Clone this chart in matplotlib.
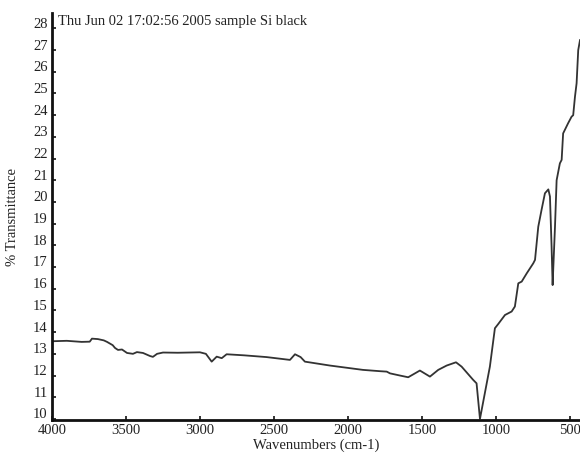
import matplotlib
matplotlib.use('Agg')
import matplotlib.pyplot as plt
import matplotlib.transforms as mtransforms
import numpy as np

# IR spectrum, wavenumber (cm-1) vs % transmittance
wavenumbers = [4000, 3900, 3800, 3745, 3730, 3690, 3650, 3628, 3590, 3574, 3554,
               3527, 3493, 3453, 3426, 3385, 3338, 3318, 3290, 3250, 3150,
               3000, 2960, 2921, 2887, 2853, 2820, 2700, 2550, 2392, 2358,
               2320, 2291, 2122, 1899, 1784, 1738, 1716, 1696, 1649, 1593,
               1514, 1446, 1390, 1333, 1270, 1232, 1154, 1131, 1108, 1041,
               1007, 984, 939, 894, 872, 849, 826, 792, 748, 736, 714, 692,
               669, 646, 635, 624, 617, 613, 601, 590, 568, 556, 546, 513,
               489, 478, 466, 455, 444, 432]
transmittance = [13.58, 13.6, 13.55, 13.56, 13.7, 13.68, 13.62, 13.55, 13.4, 13.27, 13.18,
                 13.2, 13.04, 13.0, 13.08, 13.04, 12.9, 12.86, 13.0, 13.06, 13.05,
                 13.07, 13.0, 12.64, 12.87, 12.8, 12.98, 12.93, 12.85, 12.72, 12.98,
                 12.85, 12.64, 12.46, 12.26, 12.2, 12.18, 12.1, 12.07, 12.0, 11.92,
                 12.23, 11.95, 12.26, 12.46, 12.61, 12.41, 11.8, 11.64, 10.0, 12.41,
                 14.18, 14.38, 14.79, 14.95, 15.18, 16.25, 16.33, 16.71, 17.17, 17.33, 18.86, 19.63,
                 20.4, 20.58, 20.25, 17.94, 16.17, 16.87, 18.86, 21.0, 21.78, 21.94, 23.16, 23.62,
                 23.93, 24.0, 24.85, 25.47, 27.0, 27.46]

x_ticks = [4000, 3500, 3000, 2500, 2000, 1500, 1000, 500]
y_ticks = list(range(10, 29))
header = 'Thu Jun 02 17:02:56 2005 sample Si black'

plt.rcParams['font.family'] = ['Liberation Serif', 'DejaVu Serif']

fig = plt.figure(figsize=(5.8, 4.57), dpi=100)
ax = fig.add_axes([52 / 580, 37 / 457, 528 / 580, 407 / 457])

ax.plot(wavenumbers, transmittance, color='#333333', lw=1.3)

ax.set_xlim(4000, 432)
ax.set_ylim(9.95, 28.71)
ax.set_xticks(x_ticks)
ax.set_yticks(y_ticks)

for side in ['top', 'right']:
    ax.spines[side].set_visible(False)
for side in ['left', 'bottom']:
    ax.spines[side].set_linewidth(2)
    ax.spines[side].set_color('#111111')

ax.tick_params(axis='both', direction='in', length=3, width=1.2,
               labelsize=10.5, colors='#111111', labelcolor='#222222', pad=3)

# y labels sit a little above their tick marks
offset = mtransforms.ScaledTranslation(0, 4 / 72, fig.dpi_scale_trans)
for lbl in ax.get_yticklabels():
    lbl.set_transform(lbl.get_transform() + offset)

ax.set_xlabel('Wavenumbers (cm-1)', fontsize=10.5, color='#222222', labelpad=1)
ax.set_ylabel('% Transmittance', fontsize=10.5, color='#222222', labelpad=10)

ax.text(0.011, 0.995, header, transform=ax.transAxes, fontsize=10.5,
        color='#222222', ha='left', va='top')

fig.savefig('out.png', dpi=100)
